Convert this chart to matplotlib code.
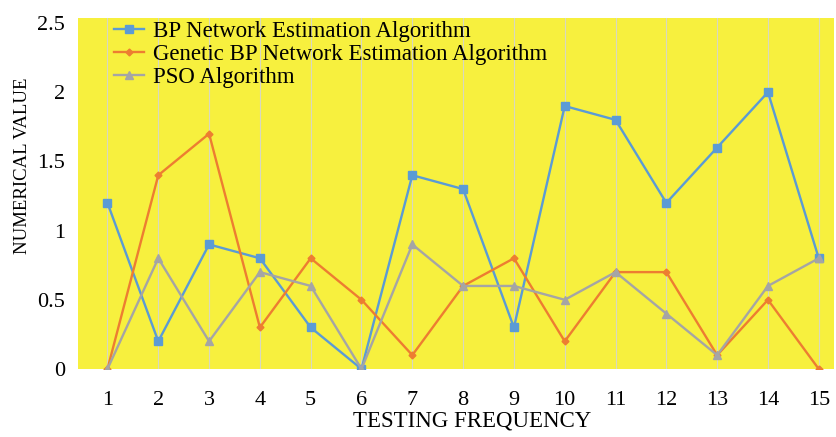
import numpy as np
import matplotlib
matplotlib.use("agg")
import matplotlib.pyplot as plt

# data
freq = list(range(1, 16))
bp = [1.2, 0.2, 0.9, 0.8, 0.3, 0.0, 1.4, 1.3, 0.3, 1.9, 1.8, 1.2, 1.6, 2.0, 0.8]
genetic_bp = [0.0, 1.4, 1.7, 0.3, 0.8, 0.5, 0.1, 0.6, 0.8, 0.2, 0.7, 0.7, 0.1, 0.5, 0.0]
pso = [0.0, 0.8, 0.2, 0.7, 0.6, 0.0, 0.9, 0.6, 0.6, 0.5, 0.7, 0.4, 0.1, 0.6, 0.8]
y_ticks = [0, 0.5, 1, 1.5, 2, 2.5]
y_tick_labels = ["0", "0.5", "1", "1.5", "2", "2.5"]

plt.rcParams["font.family"] = ["Liberation Serif", "DejaVu Serif"]
plt.rcParams["hatch.color"] = "#FFFFC8"
plt.rcParams["hatch.linewidth"] = 0.4

W, H = 837, 437
fig = plt.figure(figsize=(W / 100, H / 100), dpi=100)
# plot area in pixels: left 78, right 834, top 18, bottom 369
ax = fig.add_axes([78 / W, 1 - 369 / H, 756 / W, 351 / H])
ax.set_facecolor("#F7F03E")
ax.patch.set_hatch("xxxxxxxx")

ax.plot(freq, bp, color="#5B9BD5", marker="s", markersize=5.5, lw=1.7,
        label="BP Network Estimation Algorithm", zorder=3)
ax.plot(freq, genetic_bp, color="#ED7D31", marker="D", markersize=3.5, lw=1.7,
        label="Genetic BP Network Estimation Algorithm", zorder=3)
ax.plot(freq, pso, color="#A5A5A5", marker="^", markersize=5.5, lw=1.7,
        label="PSO Algorithm", zorder=3)

ax.set_xlim(0.42, 15.3)
ax.set_ylim(0, 2.536)
ax.set_xticks(freq)
ax.set_yticks(y_ticks)
ax.set_yticklabels(y_tick_labels)
ax.tick_params(length=0, labelsize=16)
ax.tick_params(axis="x", pad=16)
ax.tick_params(axis="y", pad=9.5)
ax.grid(axis="x", color="#D8D8C0", lw=0.8, zorder=1)
for s in ax.spines.values():
    s.set_visible(False)

fig.text(472 / W, 1 - 421 / H, "TESTING FREQUENCY", fontsize=16.5,
         ha="center", va="center")
fig.text(23 / W, 1 - 166 / H, "NUMERICAL VALUE", fontsize=13.5,
         rotation=90, ha="center", va="center")

ax.legend(loc="upper left", bbox_to_anchor=(36 / 756, 1 - 3 / 351), frameon=False,
          fontsize=16.5, handlelength=1.3, handletextpad=0.4, labelspacing=0.08,
          borderaxespad=0, borderpad=0)

fig.savefig("out.png", dpi=100)
